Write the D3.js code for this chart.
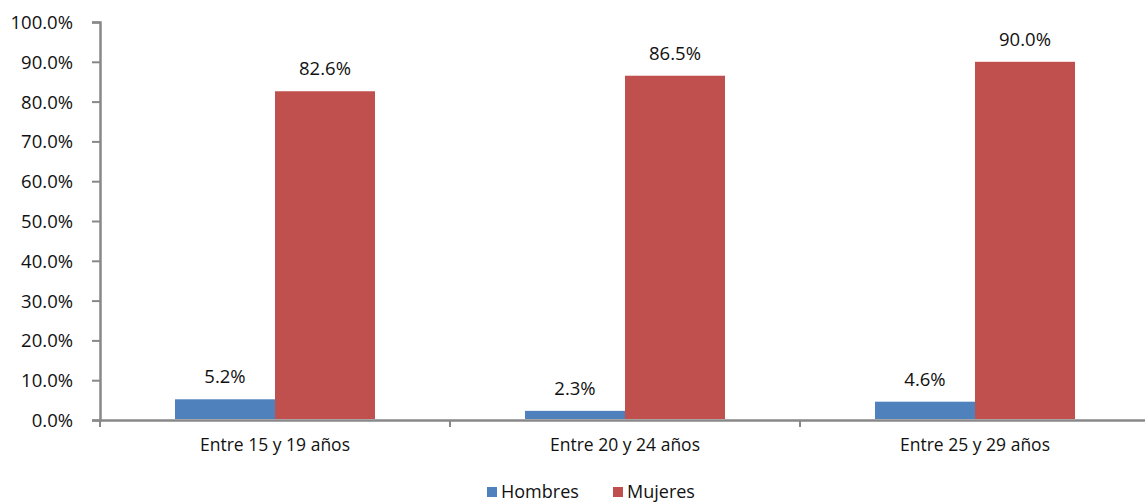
<!DOCTYPE html>
<html>
<head>
<meta charset="utf-8">
<script src="https://cdn.jsdelivr.net/npm/d3@7"></script>
<style>
  body { margin: 0; background: #fff; }
  text { font-family: "Open Sans", sans-serif; fill: #111; }
</style>
</head>
<body>
<svg id="chart"></svg>
<script>
const CONF = {
    width: 1145,
    height: 504,
    left: 100,
    right: 1150,
    top: 22,
    bottom: 420,
}

const categories = ["Entre 15 y 19 años", "Entre 20 y 24 años", "Entre 25 y 29 años"]
const series = ["Hombres", "Mujeres"]
const hombres = [5.2, 2.3, 4.6]
const mujeres = [82.6, 86.5, 90.0]
const yTicks = [0, 10, 20, 30, 40, 50, 60, 70, 80, 90, 100]
const colors = ["#4F81BD", "#C0504D"]

let svg = d3.select("svg#chart").attr("width", CONF.width).attr("height", CONF.height)

let x = d3.scaleBand().domain(categories).range([CONF.left, CONF.right])
let xInner = d3.scaleBand().domain(series).range([0, x.bandwidth()]).paddingInner(0).paddingOuter(0.75)
let y = d3.scaleLinear().domain([0, 100]).range([CONF.bottom, CONF.top])

let rows = categories.map((c, i) => ({ cat: c, values: [hombres[i], mujeres[i]] }))

// y axis
let yAxis = svg.append("g")
    .attr("transform", `translate(${CONF.left},0)`)
    .call(d3.axisLeft(y).tickValues(yTicks).tickSize(8).tickPadding(19).tickFormat(d => d.toFixed(1) + "%"))
yAxis.selectAll("text").style("font-size", "18.5px").attr("dy", "0.35em")

// x axis
let xAxis = svg.append("g")
    .attr("transform", `translate(0,${CONF.bottom})`)
    .call(d3.axisBottom(x).tickSize(0).tickPadding(18))
xAxis.selectAll("text").style("font-size", "17.5px").attr("dy", "0.72em")
xAxis.selectAll(".tick line").remove()
xAxis.selectAll()
    .data(d3.range(categories.length + 1))
    .enter()
    .append("line")
    .attr("x1", i => CONF.left + i * x.step())
    .attr("x2", i => CONF.left + i * x.step())
    .attr("y1", 0)
    .attr("y2", 7)

svg.selectAll(".domain, .tick line, g line").attr("stroke", "#888").attr("stroke-width", 2)
svg.selectAll(".domain").attr("stroke-width", 2.5)

// bars
let groups = svg.selectAll(".grp")
    .data(rows)
    .enter()
    .append("g")
    .classed("grp", true)
    .attr("transform", d => `translate(${x(d.cat)},0)`)

groups.selectAll("rect")
    .data(d => d.values.map((v, j) => ({ s: series[j], v: v, j: j })))
    .enter()
    .append("rect")
    .attr("x", d => xInner(d.s))
    .attr("width", xInner.bandwidth())
    .attr("y", d => y(d.v))
    .attr("height", d => y(0) - y(d.v) - 1)
    .attr("fill", d => colors[d.j])

groups.selectAll(".lbl")
    .data(d => d.values.map((v, j) => ({ s: series[j], v: v, j: j })))
    .enter()
    .append("text")
    .classed("lbl", true)
    .attr("x", d => xInner(d.s) + xInner.bandwidth() / 2)
    .attr("y", d => y(d.v) - 16)
    .attr("text-anchor", "middle")
    .style("font-size", "18.5px")
    .text(d => d.v.toFixed(1) + "%")

// legend
let legendX = [487, 613]
let legend = svg.selectAll(".leg")
    .data(series)
    .enter()
    .append("g")
    .classed("leg", true)
    .attr("transform", (d, i) => `translate(${legendX[i]},487)`)
legend.append("rect").attr("width", 10).attr("height", 10).attr("fill", (d, i) => colors[i])
legend.append("text").attr("x", 14).attr("y", 11).style("font-size", "18px").text(d => d)
</script>
</body>
</html>
